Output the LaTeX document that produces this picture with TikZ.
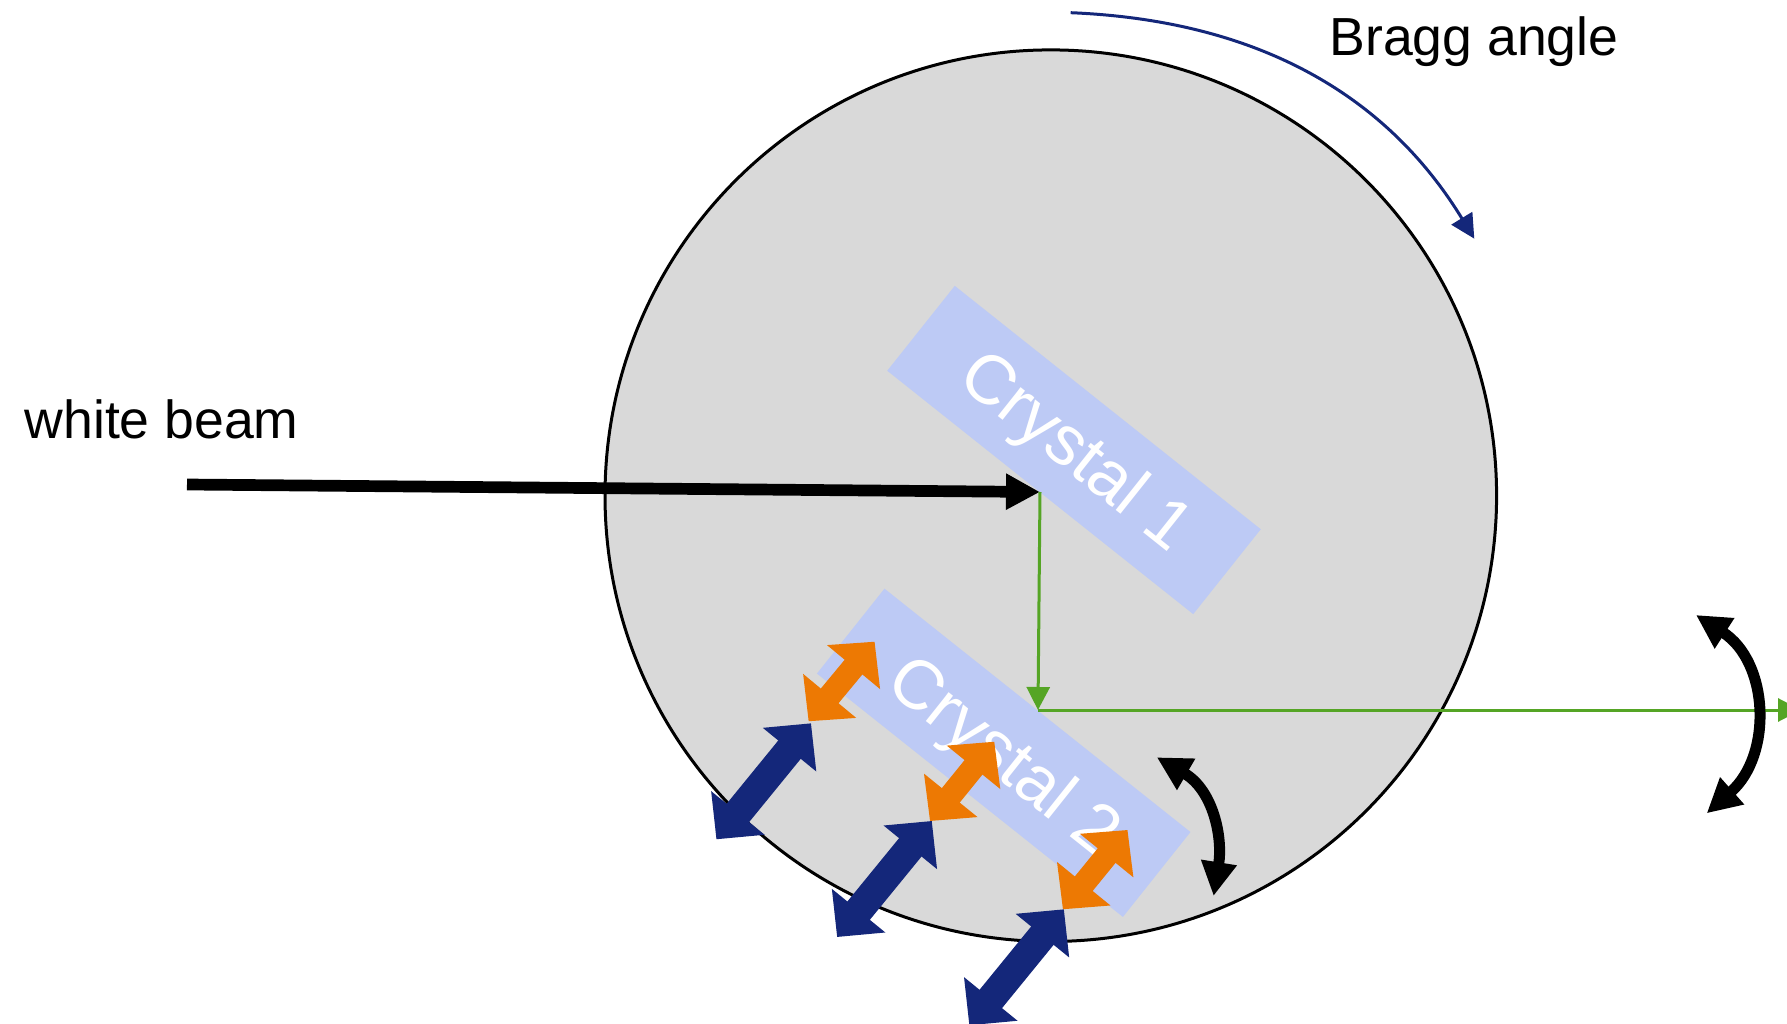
\documentclass[tikz,border=0pt]{standalone}
\usepackage{fontspec}
\setmainfont{Liberation Sans}
\usetikzlibrary{arrows.meta}
\definecolor{diskgray}{HTML}{D9D9D9}
\definecolor{crystalblue}{HTML}{BDCAF5}
\definecolor{motornavy}{HTML}{14277A}
\definecolor{pitchorange}{HTML}{ED7903}
\definecolor{beamgreen}{HTML}{55A525}
\tikzset{
  crystal/.style={fill=crystalblue, rotate=-38.5, minimum width=39.1mm, minimum height=10.85mm, inner sep=0pt},
  crystaltext/.style={text=white, rotate=-38.5, inner sep=0pt, font=\fontsize{19.8}{24}\selectfont},
  label/.style={font=\fontsize{15.25}{18}\selectfont, inner sep=0pt},
  greenbeam/.style={draw=beamgreen, line width=0.3mm, -{Triangle[length=2.3mm,width=2.3mm]}},
  rocking/.style={line width=1.1mm, {Triangle[length=3.4mm,width=3.4mm]}-{Triangle[length=3.4mm,width=3.4mm]}},
  pitcharrow/.style={draw=pitchorange, line width=2.3mm, {Triangle[length=3.3mm,width=6.7mm]}-{Triangle[length=3.3mm,width=6.7mm]}},
  motorarrow/.style={draw=motornavy, line width=2.9mm, {Triangle[length=3.4mm,width=6.7mm]}-{Triangle[length=3.4mm,width=6.7mm]}}
}

\begin{document}
\begin{tikzpicture}[x=0.1mm, y=-0.1mm] % 1 Einheit = 1 Pixel

\useasboundingbox (0,0) rectangle (1787,1024);

% Scheibe
\node[circle, draw, line width=0.3mm, fill=diskgray, minimum size=89.16mm, inner sep=0pt] (disk) at (1050.8,495.7) {};

% Kristalle
\node[crystal] (crystal1) at (1074,450) {};
\node[crystal] (crystal2) at (1003.7,752.8) {};
\node[crystaltext] (label1) at (1074,454) {Crystal 1};
\node[crystaltext] (label2) at (1002,759) {Crystal 2};

% Strahl
\coordinate (beamstart) at (187,484.5);
\coordinate (hit1) at (1040,492);
\coordinate (hit2) at (1038,710);
\coordinate (beamend) at (1801,710);
\draw[line width=1.17mm, -{Triangle[length=3.4mm,width=3.4mm]}] (beamstart) -- (hit1);
\draw[greenbeam] (hit1) -- (hit2);
\draw[greenbeam] (hit2) -- (beamend);

% Bragg-Winkel
\coordinate (braggstart) at (1070.7,12.7);
\coordinate (braggend) at (1474.3,238.7);
\draw[draw=motornavy, line width=0.3mm, -{Triangle[length=2.4mm,width=2.4mm,fill=motornavy]}] (braggstart) .. controls (1247.7,20) and (1382,87.6) .. (braggend);

% Verstellung unten (blau, orange)
\foreach \i/\xa/\ya/\xb/\yb in {1/716.4/839.3/811/723.3, 2/837.1/937/931.8/821, 3/969.3/1025.3/1063.9/909.3} {
  \coordinate (motor\i a) at (\xa,\ya);
  \coordinate (motor\i b) at (\xb,\yb);
  \draw[motorarrow] (motor\i a) -- (motor\i b);
}
\foreach \i/\xa/\ya/\xb/\yb in {1/808.6/721.3/874.6/641.7, 2/930/821/994.3/741.7, 3/1062.9/909.3/1127.5/830} {
  \coordinate (pitch\i a) at (\xa,\ya);
  \coordinate (pitch\i b) at (\xb,\yb);
  \draw[pitcharrow] (pitch\i a) -- (pitch\i b);
}

% Schwenkpfeile
\coordinate (rocka) at (1156.8,757.3);
\coordinate (rockb) at (1213.6,896);
\coordinate (rockc) at (1696,615);
\coordinate (rockd) at (1706.7,813.3);
\draw[rocking] (rocka) .. controls (1213,790) and (1223,837) .. (rockb);
\draw[rocking] (rockc) .. controls (1769,662) and (1773,754.7) .. (rockd);

% Beschriftung
\node[label] (whitebeam) at (161.7,419) {white beam};
\node[label] (bragg) at (1474,42) {Bragg angle};

\end{tikzpicture}
\end{document}
